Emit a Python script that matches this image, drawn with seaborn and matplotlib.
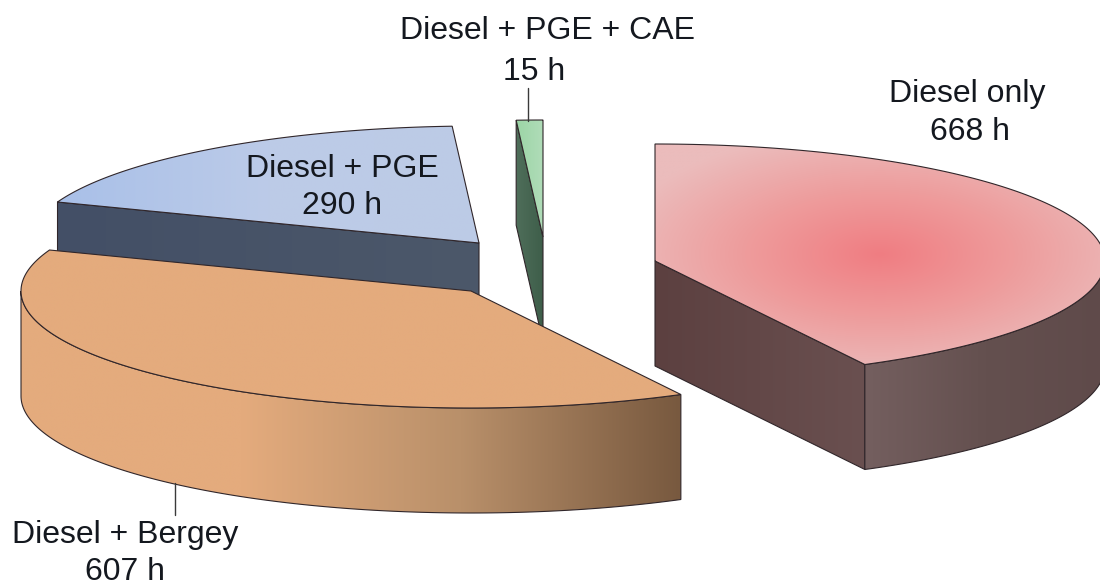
import numpy as np
import matplotlib
matplotlib.use("Agg")
import matplotlib.pyplot as plt
from matplotlib.patches import Polygon
import seaborn as sns

# ---- data ----
categories = ["Diesel only", "Diesel + Bergey", "Diesel + PGE", "Diesel + PGE + CAE"]
hours = [668, 607, 290, 15]

# ---- layout / style (pixels in the 1100x586 canvas) ----
RX, RY, DEPTH = 450, 117, 105
apex = {"Diesel only": (655, 261), "Diesel + Bergey": (471, 291),
        "Diesel + PGE": (479, 243), "Diesel + PGE + CAE": (543, 237)}
label_pos = {"Diesel only": ((967, 94), (970, 132)),
             "Diesel + Bergey": ((125, 535), (125, 572)),
             "Diesel + PGE": ((342, 169), (342, 206)),
             "Diesel + PGE + CAE": ((548, 31), (534, 72))}
leaders = {"Diesel + Bergey": ((175, 175), (483, 515)),
           "Diesel + PGE + CAE": ((528, 528), (88, 121))}
top_colors = {"Diesel + Bergey": ["#e4ab7d", "#e4ab7d"],
              "Diesel + PGE": ["#a9c0e8", "#bccbe8", "#bdcbe6"],
              "Diesel + PGE + CAE": ["#9bd5a6", "#b0dcb8"]}
side_colors = {"Diesel only": ["#745f5f", "#64504f", "#5f4a4a"],
               "Diesel + Bergey": ["#e4ab7d", "#e4ab7d", "#b9906a", "#78593f"],
               "Diesel + PGE": ["#46536a", "#4c586a"],
               "Diesel + PGE + CAE": ["#4a6a55", "#40604c"]}
face_colors = {"Diesel only": ["#5c4040", "#6a5050"],
               "Diesel + PGE": ["#434f66", "#4c586a"],
               "Diesel + PGE + CAE": ["#4f6e5a", "#3e5e4a"]}
EDGE = "#30262a"
INK = "#14181f"

sns.set_theme(style="white")
plt.rcParams["font.family"] = ["Liberation Sans", "DejaVu Sans"]
fig = plt.figure(figsize=(11, 5.86), dpi=100)
ax = fig.add_axes([0, 0, 1, 1])


def rim(center, t1, t2, n=160):
    t = np.radians(np.linspace(t1, t2, n))
    return np.column_stack([center[0] + RX * np.sin(t), center[1] - RY * np.cos(t)])


def horizontal_fill(path, colors, z):
    xs, ys = path[:, 0], path[:, 1]
    cmap = sns.blend_palette(colors, as_cmap=True)
    patch = Polygon(path, closed=True, fc="none", ec="none", zorder=z)
    ax.add_patch(patch)
    grad = np.linspace(0, 1, 256)[None, :]
    im = ax.imshow(grad, extent=(xs.min(), xs.max(), ys.max(), ys.min()), cmap=cmap,
                   aspect="auto", zorder=z, interpolation="bilinear")
    im.set_clip_path(patch)
    ax.add_patch(Polygon(path, closed=True, fc="none", ec=EDGE, lw=0.8, zorder=z + 0.1))


def top_fill(path, name, z):
    xs, ys = path[:, 0], path[:, 1]
    patch = Polygon(path, closed=True, fc="none", ec="none", zorder=z)
    ax.add_patch(patch)
    if name == "Diesel only":
        x0, x1, y0, y1 = xs.min(), xs.max(), ys.min(), ys.max()
        X, Y = np.meshgrid(np.linspace(x0, x1, 400), np.linspace(y0, y1, 300))
        R = np.clip(np.hypot((X - 880) / 270, (Y - 255) / 125), 0, 1)
        cmap = sns.blend_palette(["#f07d82", "#ee9c9c", "#ebbcbc"], as_cmap=True)
        im = ax.imshow(R, extent=(x0, x1, y1, y0), origin="upper", cmap=cmap, vmin=0, vmax=1,
                       aspect="auto", zorder=z, interpolation="bilinear")
    else:
        cmap = sns.blend_palette(top_colors[name], as_cmap=True)
        im = ax.imshow(np.linspace(0, 1, 256)[None, :],
                       extent=(xs.min(), xs.max(), ys.max(), ys.min()), cmap=cmap,
                       aspect="auto", zorder=z, interpolation="bilinear")
    im.set_clip_path(patch)
    ax.add_patch(Polygon(path, closed=True, fc="none", ec=EDGE, lw=0.8, zorder=z + 0.1))


total = sum(hours)
edges = np.concatenate([[0], np.cumsum(hours)]) * 360.0 / total
spans = {c: (edges[i], edges[i + 1]) for i, c in enumerate(categories)}
order = {"Diesel + PGE": 2, "Diesel + PGE + CAE": 3, "Diesel only": 4, "Diesel + Bergey": 5}

for name, (t1, t2) in spans.items():
    c = np.array(apex[name], float)
    z = order[name]
    down = np.array([0, DEPTH])
    # cut faces that look towards the viewer
    for t, visible in ((t1, np.sin(np.radians(t1)) < -1e-6), (t2, np.sin(np.radians(t2)) > 1e-6)):
        if visible:
            p = rim(c, t, t, 1)[0]
            horizontal_fill(np.array([c, p, p + down, c + down]), face_colors[name], z)
    # outer wall: the front half of the rim only
    a, b = max(t1, 90), min(t2, 270)
    if b > a:
        r = rim(c, a, b)
        horizontal_fill(np.vstack([r, (r + down)[::-1]]), side_colors[name], z + 0.2)
    # top surface
    top_fill(np.vstack([c, rim(c, t1, t2)]), name, z + 0.4)

for name, (xx, yy) in leaders.items():
    ax.plot(xx, yy, color="#3a3a3a", lw=1.0, zorder=8)

for name, h in zip(categories, hours):
    (p1, p2) = label_pos[name]
    ax.text(*p1, name, ha="center", va="center", fontsize=23, color=INK, zorder=9)
    ax.text(*p2, f"{h} h", ha="center", va="center", fontsize=23, color=INK, zorder=9)

ax.set_xlim(0, 1100)
ax.set_ylim(586, 0)
ax.axis("off")
fig.savefig("out.png", dpi=100, facecolor="white")
